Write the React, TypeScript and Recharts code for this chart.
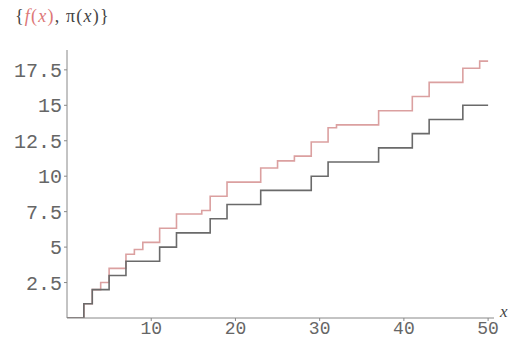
import { LineChart, Line, XAxis, YAxis } from "recharts";

// jump points of the two step functions on 0..50
const xs = [0, 2, 3, 4, 5, 7, 8, 9, 11, 13, 16, 17, 19, 23, 25, 27, 29, 31, 32, 37, 41, 43, 47, 49, 50];
// f(x) (red)
const fVals = [0, 1, 2, 2.5, 3.5, 4.5, 4.833, 5.333, 6.333, 7.333, 7.583, 8.583, 9.583, 10.583, 11.083, 11.417, 12.417, 13.417, 13.617, 14.617, 15.617, 16.617, 17.617, 18.117, 18.117];
// pi(x) (dark)
const piVals = [0, 1, 2, 2, 3, 4, 4, 4, 5, 6, 6, 7, 8, 9, 9, 9, 10, 11, 11, 12, 13, 14, 15, 15, 15];

const xTicks = [10, 20, 30, 40, 50];
const yTicks = [2.5, 5, 7.5, 10, 12.5, 15, 17.5];

const data = xs.map((x, i) => ({ x, f: fVals[i], pi: piVals[i] }));

const tickStyle = { fill: "#666", fontSize: 20, fontFamily: "Liberation Mono, monospace" };
const xTickStyle = { ...tickStyle, fontSize: 18 };

export default function App() {
  return (
    <div style={{ position: "absolute", left: 0, top: 0, width: 521, height: 340, background: "#fff" }}>
      <LineChart width={521} height={340} data={data} margin={{ top: 50, right: 27, left: 0, bottom: 0 }}>
        <XAxis
          dataKey="x"
          type="number"
          domain={[0, 50.7]}
          ticks={xTicks}
          tick={xTickStyle}
          tickSize={3}
          tickMargin={0}
          height={22}
          stroke="#888"
          allowDataOverflow
        />
        <YAxis
          type="number"
          domain={[0, 18.9]}
          ticks={yTicks}
          tick={tickStyle}
          tickSize={3}
          width={67}
          stroke="#888"
          tickFormatter={(v: number) => String(v)}
          allowDataOverflow
        />
        <Line dataKey="f" type="stepAfter" stroke="#dba0a0" strokeWidth={1.6} dot={false} isAnimationActive={false} />
        <Line dataKey="pi" type="stepAfter" stroke="#6a6a6a" strokeWidth={1.6} dot={false} isAnimationActive={false} />
      </LineChart>
      <div
        style={{
          position: "absolute",
          left: 15,
          top: 6,
          fontFamily: "Liberation Serif, serif",
          fontSize: 18,
          letterSpacing: 1.2,
          color: "#444",
          whiteSpace: "nowrap",
        }}
      >
        {"{"}
        <span style={{ color: "#d77" }}>
          <i>f</i>(<i>x</i>)
        </span>
        , π(<i>x</i>){"}"}
      </div>
      <div
        style={{
          position: "absolute",
          left: 500,
          top: 302,
          fontFamily: "Liberation Serif, serif",
          fontStyle: "italic",
          fontSize: 17,
          color: "#444",
        }}
      >
        x
      </div>
    </div>
  );
}
